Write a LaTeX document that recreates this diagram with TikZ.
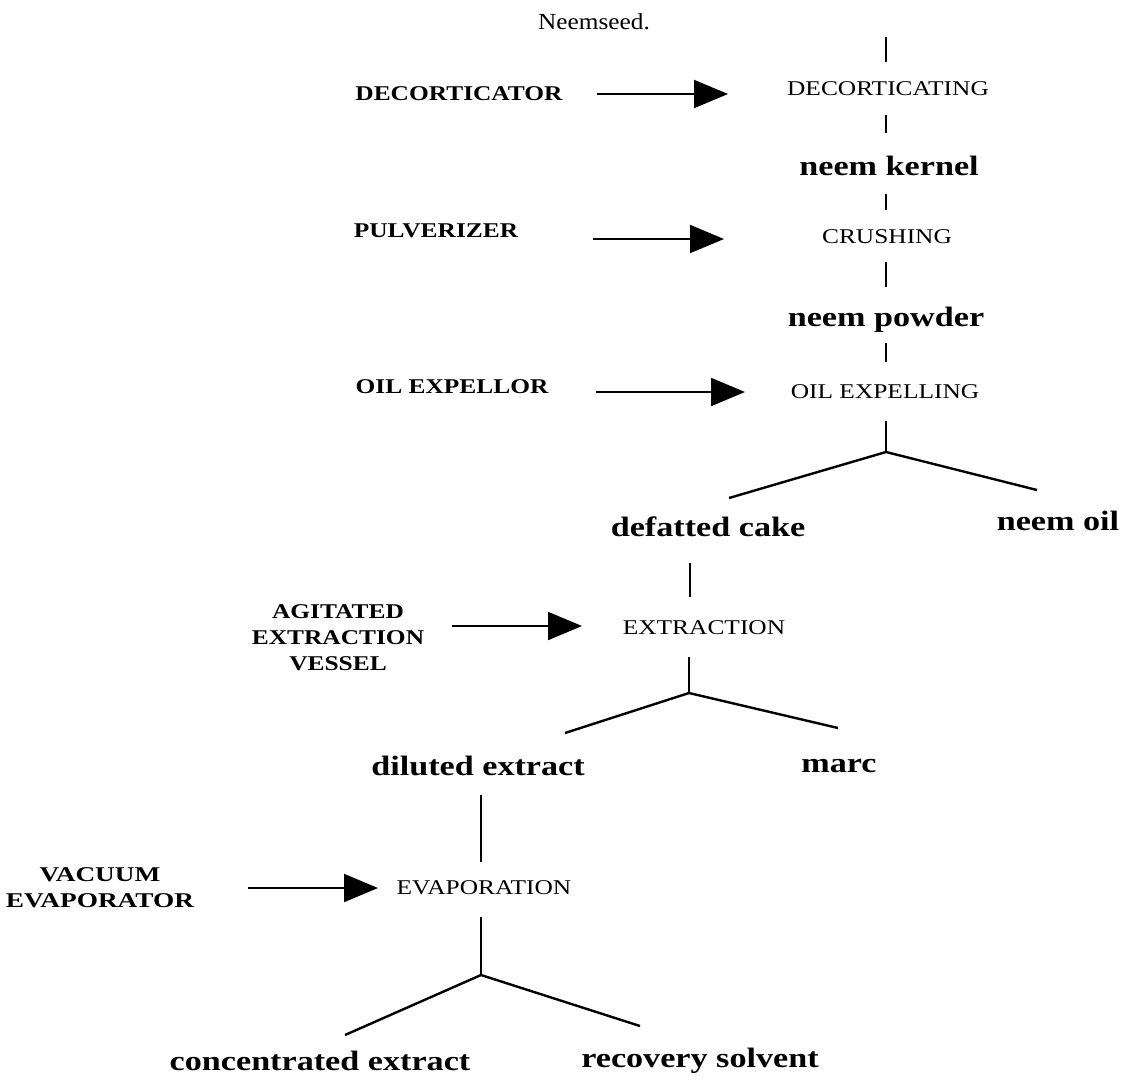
\documentclass[tikz,border=0pt]{standalone}
\usepackage{fontspec}
\setmainfont{Liberation Serif}
\usepackage{graphicx}
\usetikzlibrary{arrows.meta}
\newcommand{\Proc}[1]{\scalebox{1.21}[1]{\fontsize{21}{21}\selectfont #1}}
\newcommand{\Prod}[1]{\scalebox{1.22}[1]{\fontsize{28}{28}\selectfont\bfseries #1}}
\newcommand{\Equip}[3][1.21]{\scalebox{#1}[1]{\fontsize{21}{#2}\selectfont\bfseries\begin{tabular}{@{}c@{}}#3\end{tabular}}}
\tikzset{
  lbl/.style={inner sep=0pt, anchor=center},
  link/.style={line width=2.4pt},
  feed/.style={line width=2pt, -{Triangle[length=34pt,width=28pt]}},
}
\begin{document}
\begin{tikzpicture}[x=1pt,y=-1pt]
\useasboundingbox (0,0) rectangle (1129,1082);
% title
\node[lbl] (title) at (594,22) {\scalebox{1.1}[1]{\fontsize{23}{23}\selectfont Neemseed.}};
% main column
\node[lbl] (decort) at (888,89) {\Proc{DECORTICATING}};
\node[lbl] (kernel) at (889,166) {\Prod{neem kernel}};
\node[lbl] (crush) at (887,237) {\Proc{CRUSHING}};
\node[lbl] (powder) at (886,320) {\Prod{neem powder}};
\node[lbl] (oilexp) at (885,392) {\Proc{OIL EXPELLING}};
\node[lbl] (cake) at (708,527) {\Prod{defatted cake}};
\node[lbl] (oil) at (1058,521) {\Prod{neem oil}};
\node[lbl] (extr) at (704,628) {\Proc{EXTRACTION}};
\node[lbl] (dil) at (478,766) {\Prod{diluted extract}};
\node[lbl] (marc) at (839,766) {\Prod{marc}};
\node[lbl] (evap) at (484,888) {\Proc{EVAPORATION}};
\node[lbl] (conc) at (320,1061) {\Prod{concentrated extract}};
\node[lbl] (solv) at (700,1061) {\Prod{recovery solvent}};
% equipment
\node[lbl] (decor) at (459,96) {\Equip{21}{DECORTICATOR}};
\node[lbl] (pulv) at (436,233) {\Equip{21}{PULVERIZER}};
\node[lbl] (expel) at (452,389) {\Equip{21}{OIL EXPELLOR}};
\node[lbl] (vessel) at (338,639) {\Equip{26}{AGITATED\\EXTRACTION\\VESSEL}};
\node[lbl] (vac) at (100,889) {\Equip[1.3]{26}{VACUUM\\EVAPORATOR}};
% connector coordinates
\coordinate (s1a) at (886,37);  \coordinate (s1b) at (886,62);
\coordinate (s2a) at (886,115); \coordinate (s2b) at (886,133);
\coordinate (s3a) at (886,194); \coordinate (s3b) at (886,210);
\coordinate (s4a) at (886,262); \coordinate (s4b) at (886,287);
\coordinate (s5a) at (886,343); \coordinate (s5b) at (886,362);
\coordinate (s6a) at (886,421); \coordinate (b1) at (886,452);
\coordinate (b1l) at (729,498); \coordinate (b1r) at (1037,490);
\coordinate (s7a) at (690,563); \coordinate (s7b) at (690,597);
\coordinate (s8a) at (689,657); \coordinate (b2) at (689,693);
\coordinate (b2l) at (565,733); \coordinate (b2r) at (838,728);
\coordinate (s9a) at (481,795); \coordinate (s9b) at (481,862);
\coordinate (s10a) at (481,917); \coordinate (b3) at (481,975);
\coordinate (b3l) at (345,1035); \coordinate (b3r) at (640,1026);
% arrow tails and tips
\coordinate (a1t) at (597,94);  \coordinate (a1h) at (728,94);
\coordinate (a2t) at (593,239); \coordinate (a2h) at (724,239);
\coordinate (a3t) at (596,392); \coordinate (a3h) at (745,392);
\coordinate (a4t) at (452,626); \coordinate (a4h) at (582,626);
\coordinate (a5t) at (248,888); \coordinate (a5h) at (378,888);
% vertical links
\draw[link] (s1a) -- (s1b);
\draw[link] (s2a) -- (s2b);
\draw[link] (s3a) -- (s3b);
\draw[link] (s4a) -- (s4b);
\draw[link] (s5a) -- (s5b);
\draw[link] (s6a) -- (b1);
\draw[link] (b1l) -- (b1) -- (b1r);
\draw[link] (s7a) -- (s7b);
\draw[link] (s8a) -- (b2);
\draw[link] (b2l) -- (b2) -- (b2r);
\draw[link] (s9a) -- (s9b);
\draw[link] (s10a) -- (b3);
\draw[link] (b3l) -- (b3) -- (b3r);
% feed arrows
\draw[feed] (a1t) -- (a1h);
\draw[feed] (a2t) -- (a2h);
\draw[feed] (a3t) -- (a3h);
\draw[feed] (a4t) -- (a4h);
\draw[feed] (a5t) -- (a5h);
\end{tikzpicture}
\end{document}
